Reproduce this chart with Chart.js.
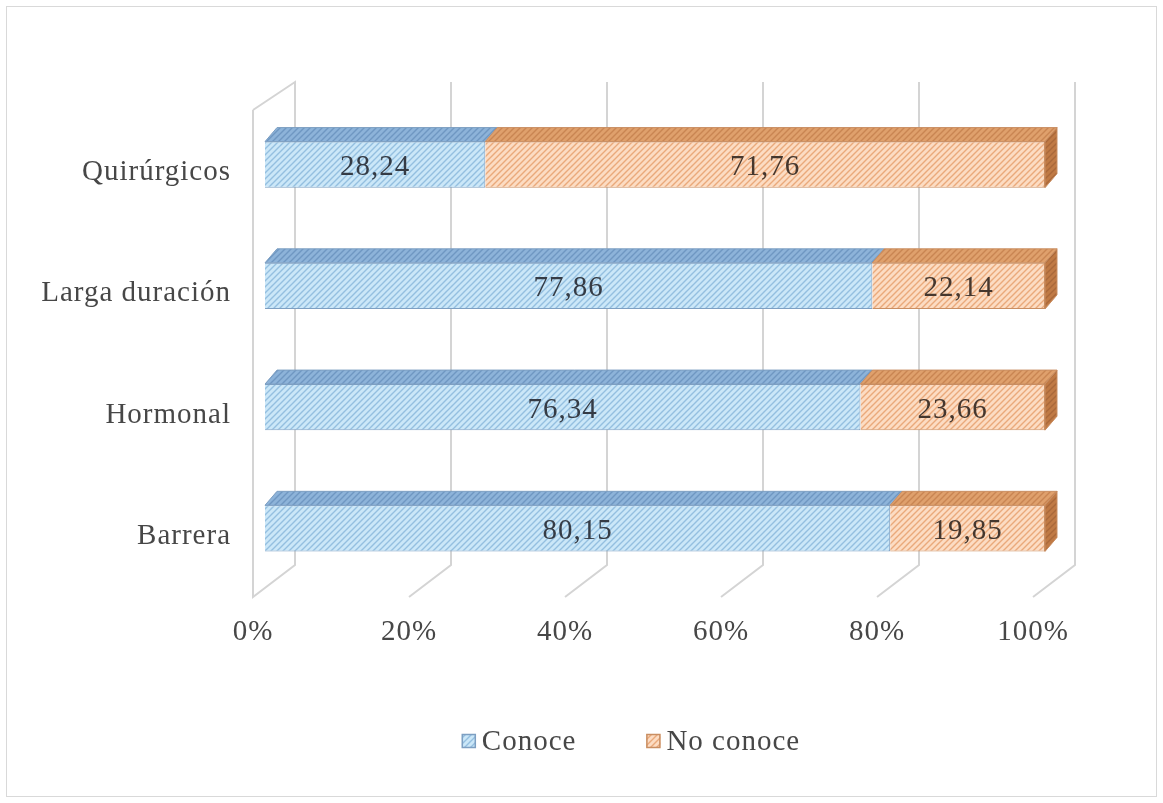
<!DOCTYPE html>
<html>
<head>
<meta charset="utf-8">
<script src="https://cdn.jsdelivr.net/npm/chart.js@4.4.0/dist/chart.umd.min.js"></script>
<style>
html,body{margin:0;padding:0;background:#fff;}
canvas{display:block;}
</style>
</head>
<body>
<canvas id="c" width="1163" height="803"></canvas>
<script>
const categories = ['Quirúrgicos', 'Larga duración', 'Hormonal', 'Barrera'];
const seriesNames = ['Conoce', 'No conoce'];
const conoce = [28.24, 77.86, 76.34, 80.15];
const noConoce = [71.76, 22.14, 23.66, 19.85];
const xTicks = [0, 20, 40, 60, 80, 100];

function hatch(bg, fg, size, lw) {
  const t = document.createElement('canvas');
  t.width = size; t.height = size;
  const g = t.getContext('2d');
  g.fillStyle = bg; g.fillRect(0, 0, size, size);
  g.strokeStyle = fg; g.lineWidth = lw;
  g.beginPath();
  g.moveTo(0, size); g.lineTo(size, 0);
  g.moveTo(-1, 1); g.lineTo(1, -1);
  g.moveTo(size - 1, size + 1); g.lineTo(size + 1, size - 1);
  g.stroke();
  return g.createPattern(t, 'repeat');
}

const styles = [
  { face: hatch('#cbe7f8', '#94bfe0', 6, 1.4), top: hatch('#8db3d9', '#6f97c2', 6, 1.4), side: '#6f97c2', border: '#7d9fc2' },
  { face: hatch('#fcdcc3', '#eaa97b', 6, 1.4), top: hatch('#dfa06c', '#c98552', 6, 1.4), side: hatch('#c07a45', '#a9683a', 6, 1.4), border: '#c98e62' }
];

const DX = 12, DY = -14;            // bar depth offset
const FRONT = -12, BACK = 30;       // floor/wall planes relative to bar front
const TEXT = '#474747';

Chart.defaults.font.family = '"Liberation Serif", "Times New Roman", serif';

const frame3d = {
  id: 'frame3d',
  beforeInit(chart) { chart.ctx.letterSpacing = '1px'; },
  beforeUpdate(chart) { chart.ctx.letterSpacing = '1px'; },
  beforeDraw(chart) {
    const ctx = chart.ctx;
    ctx.letterSpacing = '1px';
    ctx.save();
    ctx.strokeStyle = '#d9d9d9';
    ctx.lineWidth = 1;
    ctx.strokeRect(6.5, 6.5, chart.width - 13, chart.height - 13);
    ctx.restore();
  },
  beforeDatasetsDraw(chart) {
    const ctx = chart.ctx, xs = chart.scales.x, a = chart.chartArea;
    ctx.save();
    ctx.strokeStyle = '#d4d4d4';
    ctx.lineWidth = 2;
    xTicks.forEach((v, i) => {
      const px = xs.getPixelForValue(v);
      const f = px + FRONT, b = px + BACK;
      ctx.beginPath();
      if (i === 0) {
        ctx.moveTo(f, a.top + 6);
        ctx.lineTo(b, a.top - 22);
      } else {
        ctx.moveTo(b, a.top - 22);
      }
      ctx.lineTo(b, a.bottom - 24);
      ctx.lineTo(f, a.bottom + 8);
      if (i === 0) ctx.lineTo(f, a.top + 6);
      ctx.stroke();
    });
    ctx.restore();
  },
  afterDatasetsDraw(chart) {
    const ctx = chart.ctx;
    ctx.save();
    const nSets = chart.data.datasets.length;
    chart.data.datasets.forEach((ds, di) => {
      const meta = chart.getDatasetMeta(di);
      const st = styles[di];
      meta.data.forEach((el) => {
        const p = el.getProps(['x', 'y', 'base', 'height'], true);
        const top = p.y - p.height / 2, bot = p.y + p.height / 2;
        const l = Math.min(p.base, p.x), r = Math.max(p.base, p.x);
        ctx.beginPath();
        ctx.moveTo(l, top); ctx.lineTo(r, top);
        ctx.lineTo(r + DX, top + DY); ctx.lineTo(l + DX, top + DY);
        ctx.closePath();
        ctx.fillStyle = st.top; ctx.fill();
        ctx.strokeStyle = st.border; ctx.lineWidth = 1; ctx.stroke();
        if (di === nSets - 1) {
          ctx.beginPath();
          ctx.moveTo(r, top); ctx.lineTo(r + DX, top + DY);
          ctx.lineTo(r + DX, bot + DY); ctx.lineTo(r, bot);
          ctx.closePath();
          ctx.fillStyle = st.side; ctx.fill();
          ctx.strokeStyle = st.border; ctx.stroke();
        }
      });
    });
    // value labels
    ctx.letterSpacing = '1px';
    ctx.font = '29px "Liberation Serif", serif';
    ctx.textAlign = 'center';
    ctx.textBaseline = 'middle';
    chart.data.datasets.forEach((ds, di) => {
      const meta = chart.getDatasetMeta(di);
      meta.data.forEach((el, i) => {
        const p = el.getProps(['x', 'y', 'base'], true);
        ctx.fillStyle = di === 0 ? '#353b45' : '#45372e';
        ctx.fillText(ds.data[i].toFixed(2).replace('.', ','), (p.x + p.base) / 2, p.y + 3);
      });
    });
    ctx.restore();
  },
  afterDraw(chart) {
    const ctx = chart.ctx;
    ctx.save();
    ctx.letterSpacing = '1px';
    ctx.font = '29px "Liberation Serif", serif';
    ctx.textBaseline = 'middle';
    ctx.textAlign = 'left';
    const box = 14, gapText = 6, gapItem = 70, cy = 741;
    const widths = chart.data.datasets.map(ds => box + gapText + ctx.measureText(ds.label).width);
    const total = widths.reduce((s, w) => s + w, 0) + gapItem * (widths.length - 1);
    let x = 631 - total / 2;
    chart.data.datasets.forEach((ds, di) => {
      const st = styles[di];
      ctx.fillStyle = st.face;
      ctx.fillRect(x, cy - box / 2, box, box);
      ctx.strokeStyle = st.border; ctx.lineWidth = 1.5;
      ctx.strokeRect(x + 0.5, cy - box / 2 + 0.5, box - 1, box - 1);
      ctx.fillStyle = TEXT;
      ctx.fillText(ds.label, x + box + gapText, cy + 1);
      x += widths[di] + gapItem;
    });
    ctx.restore();
  }
};

new Chart(document.getElementById('c'), {
  type: 'bar',
  data: {
    labels: categories,
    datasets: [
      { label: seriesNames[0], data: conoce, backgroundColor: styles[0].face, borderColor: styles[0].border, borderWidth: 1, barPercentage: 0.38, categoryPercentage: 1 },
      { label: seriesNames[1], data: noConoce, backgroundColor: styles[1].face, borderColor: styles[1].border, borderWidth: 1, barPercentage: 0.38, categoryPercentage: 1 }
    ]
  },
  options: {
    indexAxis: 'y',
    responsive: false,
    animation: false,
    devicePixelRatio: 1,
    layout: { padding: { top: 104, right: 118, bottom: 134, left: 0 } },
    plugins: { legend: { display: false }, tooltip: { enabled: false } },
    scales: {
      x: {
        stacked: true, min: 0, max: 100,
        afterFit(s) { s.height = 80; },
        afterBuildTicks(s) { s.ticks = xTicks.map(v => ({ value: v })); },
        grid: { display: false, drawTicks: false },
        border: { display: false },
        ticks: { callback: v => v + '%', labelOffset: -12, padding: 26, color: TEXT, font: { size: 29 }, maxRotation: 0 }
      },
      y: {
        stacked: true,
        afterFit(s) { s.width = 265; },
        grid: { display: false, drawTicks: false },
        border: { display: false },
        ticks: { padding: 34, labelOffset: 8, color: TEXT, font: { size: 29 } }
      }
    }
  },
  plugins: [frame3d]
});
</script>
</body>
</html>
